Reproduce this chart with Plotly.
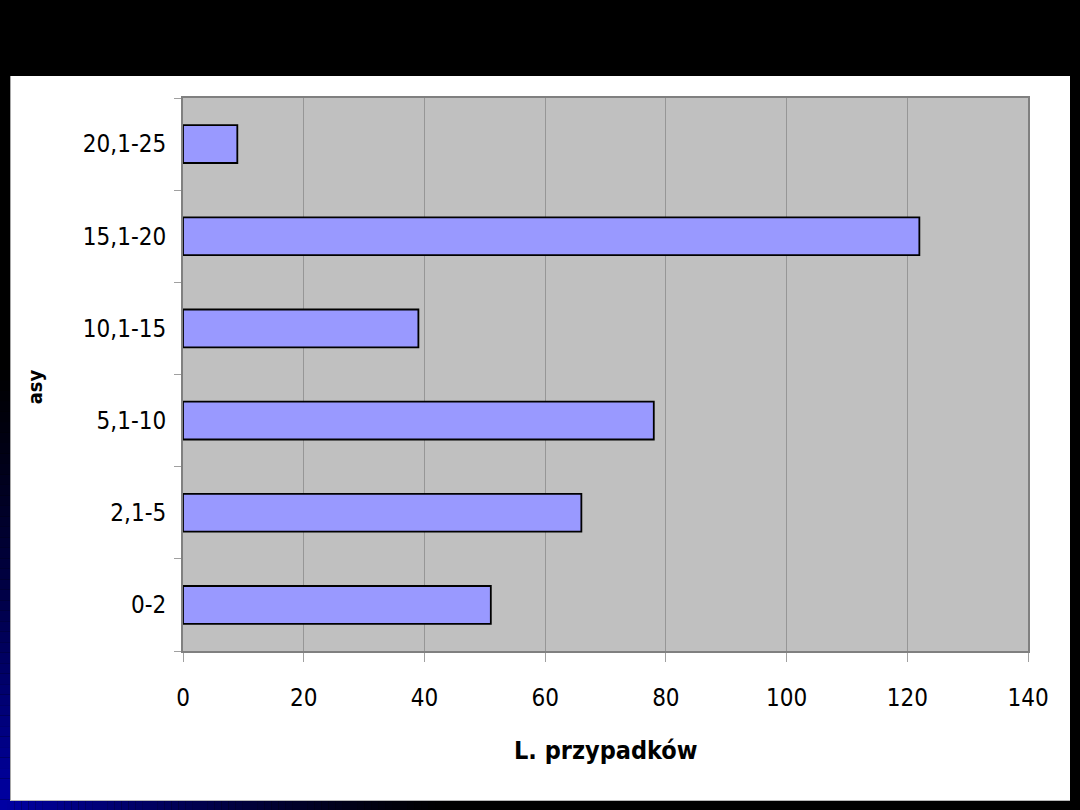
import plotly.graph_objects as go

# ---- data ----
categories = ["0-2", "2,1-5", "5,1-10", "10,1-15", "15,1-20", "20,1-25"]
counts = [51, 66, 78, 39, 122, 9]
x_ticks = [0, 20, 40, 60, 80, 100, 120, 140]
x_title = "L. przypadków"
y_title = "Klasy"

W, H = 1080, 810
FONT = "DejaVu Sans Condensed, Liberation Sans Narrow, DejaVu Sans, sans-serif"

def fx(px):
    return px / W

def fy(py):
    return (H - py) / H

fig = go.Figure()

fig.add_trace(go.Bar(
    y=categories, x=counts, orientation="h",
    marker=dict(color="#9999ff", line=dict(color="black", width=1.8)),
    hoverinfo="skip", showlegend=False,
))

# y-axis title, partially clipped by its own small subplot
fig.add_trace(go.Bar(
    x=[0], y=[100], base=[363], width=[60],
    text=[y_title], textposition="inside", insidetextanchor="middle",
    textangle=-90, constraintext="none", cliponaxis=True,
    textfont=dict(family=FONT, size=20, color="black", weight="bold"),
    insidetextfont=dict(family=FONT, size=20, color="black", weight="bold"),
    marker=dict(color="rgba(0,0,0,0)", line=dict(width=0)),
    xaxis="x2", yaxis="y2", hoverinfo="skip", showlegend=False,
))

shapes = []
# white panel
shapes.append(dict(type="rect", xref="paper", yref="paper", layer="below",
                   x0=fx(10), x1=fx(1070), y0=fy(801), y1=fy(76),
                   fillcolor="white", line=dict(width=0)))
# gradient border (left + bottom), dark navy -> blue towards bottom-left corner
def blue(d):
    t = max(0.0, 1 - d / 450.0)
    return "rgb(0,0,%d)" % int(round(165 * t ** 1.3))

n = 70
top = 76
for i in range(n):
    y0 = top + (H - top) * i / n
    y1 = top + (H - top) * (i + 1) / n
    d = H - (y0 + y1) / 2
    shapes.append(dict(type="rect", xref="paper", yref="paper", layer="below",
                       x0=fx(0), x1=fx(10), y0=fy(y1), y1=fy(y0),
                       fillcolor=blue(d), line=dict(width=0)))
for i in range(n):
    x0 = 500 * i / n
    x1 = 500 * (i + 1) / n
    d = (x0 + x1) / 2
    shapes.append(dict(type="rect", xref="paper", yref="paper", layer="below",
                       x0=fx(x0), x1=fx(x1), y0=fy(H), y1=fy(801),
                       fillcolor=blue(d), line=dict(width=0)))
# panel edge shading
shapes.append(dict(type="line", xref="paper", yref="paper", layer="below",
                   x0=fx(10.5), x1=fx(10.5), y0=fy(801), y1=fy(76),
                   line=dict(color="#a8a8a8", width=1)))
shapes.append(dict(type="line", xref="paper", yref="paper", layer="below",
                   x0=fx(10), x1=fx(1070), y0=fy(800.5), y1=fy(800.5),
                   line=dict(color="#b8b8b8", width=1)))
# plot area background
shapes.append(dict(type="rect", xref="x domain", yref="y domain", layer="below",
                   x0=0, x1=1, y0=0, y1=1, fillcolor="#c0c0c0", line=dict(width=0)))

fig.update_layout(
    width=W, height=H,
    margin=dict(l=0, r=0, t=0, b=0, autoexpand=False),
    paper_bgcolor="black",
    plot_bgcolor="#c0c0c0",
    bargap=0.59,
    shapes=shapes,
    font=dict(family=FONT, size=24, color="black"),
    xaxis=dict(
        domain=[fx(183), fx(1028)], range=[0, 140], automargin=False,
        tickmode="array", tickvals=x_ticks, ticktext=[str(v) for v in x_ticks],
        showgrid=True, gridcolor="#969696", gridwidth=1,
        showline=True, linecolor="#808080", linewidth=2, mirror=True,
        ticks="outside", ticklen=9, tickcolor="#a0a0a0", tickwidth=1,
        tickfont=dict(family=FONT, size=24, color="black"),
        ticklabelstandoff=15, zeroline=False, fixedrange=True,
    ),
    yaxis=dict(
        domain=[fy(651), fy(98)], type="category", automargin=False,
        categoryorder="array", categoryarray=categories,
        showgrid=False,
        showline=True, linecolor="#808080", linewidth=2, mirror=True,
        ticks="outside", tickson="boundaries", ticklen=7, tickcolor="#a0a0a0", tickwidth=1,
        tickfont=dict(family=FONT, size=24, color="black"),
        ticklabelstandoff=10, zeroline=False, fixedrange=True,
    ),
    xaxis2=dict(domain=[fx(29), fx(60)], range=[-6, 25], anchor="y2",
                visible=False, fixedrange=True, automargin=False),
    yaxis2=dict(domain=[fy(404), fy(340)], range=[406, 470], anchor="x2",
                visible=False, fixedrange=True, automargin=False),
    annotations=[dict(
        text=x_title, xref="paper", yref="paper",
        x=fx(605.5), y=fy(750), xanchor="center", yanchor="middle",
        showarrow=False,
        font=dict(family=FONT, size=25, color="black", weight="bold"),
    )],
)

fig.write_html(
    "out.html",
    config={"responsive": False, "displayModeBar": False},
    post_script="document.body.style.margin='0';document.body.style.padding='0';"
                "document.documentElement.style.overflow='hidden';"
                "document.body.style.overflow='hidden';",
)
